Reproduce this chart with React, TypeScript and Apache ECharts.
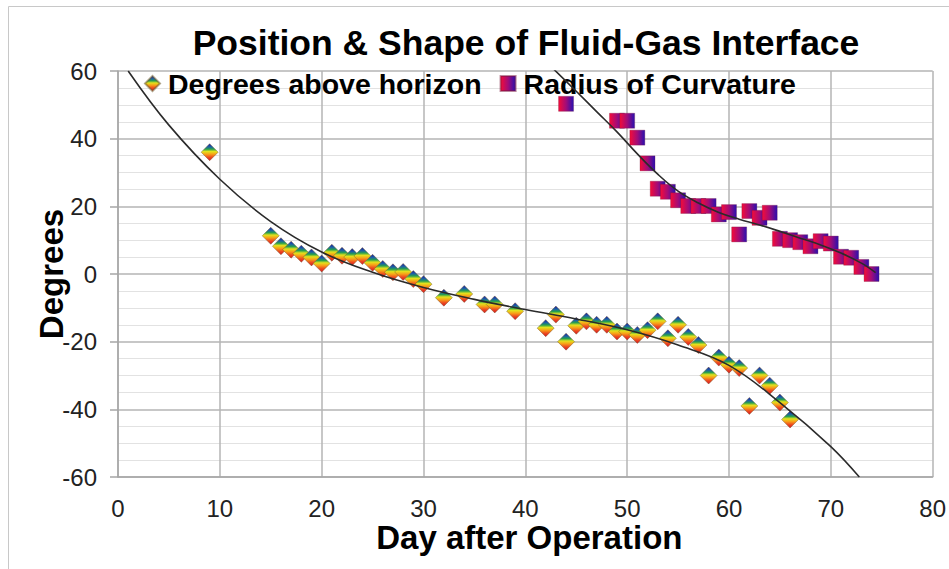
import React, { useEffect, useRef } from "react";
import * as echarts from "echarts";

// ---- data ----
const DEG_DAYS = [9, 15, 16, 17, 18, 19, 20, 21, 22, 23, 24, 25, 26, 27, 28, 29, 30, 32, 34, 36, 37, 39, 42, 43, 44, 45, 46, 47, 48, 49, 50, 51, 52, 53, 54, 55, 56, 57, 58, 59, 60, 61, 62, 63, 64, 65, 66];
const DEG_VALS = [36, 11.3, 8.2, 7.2, 6, 4.9, 3.1, 6.3, 5.4, 5, 5.3, 3.3, 1.5, 0.5, 0.6, -1.5, -3, -7, -5.9, -9, -9, -11, -16, -12, -20, -15.3, -14, -15, -15, -17, -17, -18, -16.6, -14, -19, -15, -18.6, -21, -30, -24.7, -26.8, -27.8, -39, -30, -33, -38, -43];

const RAD_DAYS = [44, 49, 50, 51, 52, 53, 54, 55, 56, 57, 58, 59, 60, 61, 62, 63, 64, 65, 66, 67, 68, 69, 70, 71, 72, 73, 74];
const RAD_VALS = [50.3, 45.3, 45.3, 40.3, 32.7, 25.2, 24.3, 21.8, 20.1, 20.1, 20.1, 17.6, 18.3, 11.7, 18.6, 16.6, 18.1, 10.4, 10, 9.4, 8.2, 9.7, 9, 5.1, 4.8, 2.1, 0];

const DEG_TREND_DAYS = [1, 5, 10, 15, 20, 25, 30, 35, 40, 45, 50, 55, 60, 65, 70, 72.8];
const DEG_TREND_VALS = [60, 44, 28, 15.5, 6.5, 0.5, -4, -7.5, -10.5, -13.3, -16.5, -21, -27, -38, -51, -60];

const RAD_TREND_DAYS = [42.8, 45, 47, 49, 51, 53, 55, 57, 59, 61, 63, 65, 67, 69, 71, 73, 74.4];
const RAD_TREND_VALS = [60.5, 54, 48, 42, 35.5, 29.5, 24.5, 21, 18.2, 16.2, 14.5, 12.6, 10.6, 8.6, 6.2, 3.2, 0.4];

const X_MIN = 0, X_MAX = 80, X_STEP = 10;
const Y_MIN = -60, Y_MAX = 60, Y_STEP = 20;

const TITLE = "Position & Shape of Fluid-Gas Interface";
const X_NAME = "Day after Operation";
const Y_NAME = "Degrees";
const SERIES_DEG = "Degrees above horizon";
const SERIES_RAD = "Radius of Curvature";

const FONT = "'Liberation Sans', Arial, Helvetica, sans-serif";

function pairs(xs: number[], ys: number[]) {
  return xs.map((x, i) => [x, ys[i]]);
}

export default function App() {
  const ref = useRef<HTMLDivElement>(null);
  useEffect(() => {
    document.body.style.margin = "0";
    if (!ref.current) return;
    const chart = echarts.init(ref.current, undefined, { renderer: "svg" });
    const diamondFill = new echarts.graphic.LinearGradient(0, 0, 0, 1, [
      { offset: 0, color: "#1c1c9c" },
      { offset: 0.18, color: "#1d5fa8" },
      { offset: 0.32, color: "#26a04e" },
      { offset: 0.46, color: "#e2e21c" },
      { offset: 0.62, color: "#f8a018" },
      { offset: 0.8, color: "#ee4a20" },
      { offset: 1, color: "#d41424" },
    ]);
    const squareFill = new echarts.graphic.LinearGradient(0, 0, 1, 0, [
      { offset: 0, color: "#f50c38" },
      { offset: 0.5, color: "#a20c78" },
      { offset: 1, color: "#2810b0" },
    ]);
    chart.setOption({
      animation: false,
      backgroundColor: "#ffffff",
      textStyle: { fontFamily: FONT },
      title: {
        text: TITLE,
        left: 521,
        textAlign: "center",
        top: 20,
        textStyle: { fontFamily: FONT, fontSize: 35.5, fontWeight: "bold", color: "#000" },
      },
      graphic: [
        {
          type: "rect",
          shape: { x: 8.5, y: 6.5, width: 1000, height: 700 },
          style: { fill: "none", stroke: "#c8c8c8", lineWidth: 1 },
          silent: true,
          z: -10,
        },
      ],
      legend: {
        data: [SERIES_DEG, SERIES_RAD],
        left: 139,
        top: 64,
        itemGap: 18,
        itemWidth: 15,
        itemHeight: 15,
        textStyle: { fontFamily: FONT, fontSize: 28.5, fontWeight: "bold", color: "#000", padding: [0, 0, 0, 3] },
      },
      grid: { left: 118, top: 71, right: 11, bottom: 92, containLabel: false },
      xAxis: {
        type: "value",
        min: X_MIN,
        max: X_MAX,
        interval: X_STEP,
        name: X_NAME,
        nameLocation: "middle",
        nameGap: 44,
        nameMoveOverlap: false,
        nameTextStyle: { fontFamily: FONT, fontSize: 33, fontWeight: "bold", color: "#000", padding: [0, 0, 0, 8] },
        axisLine: { show: true, onZero: false, lineStyle: { color: "#a6a6a6", width: 1.5 } },
        axisTick: { show: false },
        axisLabel: { fontFamily: FONT, fontSize: 24, color: "#222", margin: 19 },
        splitLine: { show: true, lineStyle: { color: "#b4b4b4", width: 1.5 } },
      },
      yAxis: {
        type: "value",
        min: Y_MIN,
        max: Y_MAX,
        interval: Y_STEP,
        name: Y_NAME,
        nameLocation: "middle",
        nameGap: 50,
        nameMoveOverlap: false,
        nameRotate: 90,
        nameTextStyle: { fontFamily: FONT, fontSize: 33, fontWeight: "bold", color: "#000" },
        axisLine: { show: true, lineStyle: { color: "#a6a6a6", width: 1.5 } },
        axisTick: { show: true, inside: false, length: 8, lineStyle: { color: "#a6a6a6", width: 1.5 } },
        axisLabel: { fontFamily: FONT, fontSize: 24, color: "#222", margin: 21 },
        splitLine: { show: true, lineStyle: { color: "#b4b4b4", width: 1.5 } },
        minorTick: { show: false, splitNumber: 4 },
        minorSplitLine: { show: true, lineStyle: { color: "#e2e2e2", width: 1 } },
      },
      series: [
        {
          name: SERIES_DEG,
          type: "scatter",
          symbol: "diamond",
          symbolSize: 17,
          data: pairs(DEG_DAYS, DEG_VALS),
          itemStyle: { color: diamondFill, opacity: 1, borderColor: "rgba(110,90,40,0.55)", borderWidth: 0.8 },
          z: 3,
        },
        {
          name: SERIES_RAD,
          type: "scatter",
          symbol: "rect",
          symbolSize: 15,
          data: pairs(RAD_DAYS, RAD_VALS),
          itemStyle: { color: squareFill, opacity: 1, borderColor: "rgba(120,20,60,0.5)", borderWidth: 0.6 },
          z: 3,
        },
        {
          name: "deg-trend",
          type: "line",
          data: pairs(DEG_TREND_DAYS, DEG_TREND_VALS),
          smooth: 0.4,
          showSymbol: false,
          symbol: "none",
          lineStyle: { color: "#2b2b2b", width: 1.6 },
          z: 5,
          silent: true,
        },
        {
          name: "rad-trend",
          type: "line",
          data: pairs(RAD_TREND_DAYS, RAD_TREND_VALS),
          smooth: 0.4,
          showSymbol: false,
          symbol: "none",
          lineStyle: { color: "#2b2b2b", width: 1.6 },
          z: 5,
          silent: true,
        },
      ],
    });
    return () => chart.dispose();
  }, []);
  return <div ref={ref} style={{ width: 949, height: 569 }} />;
}
